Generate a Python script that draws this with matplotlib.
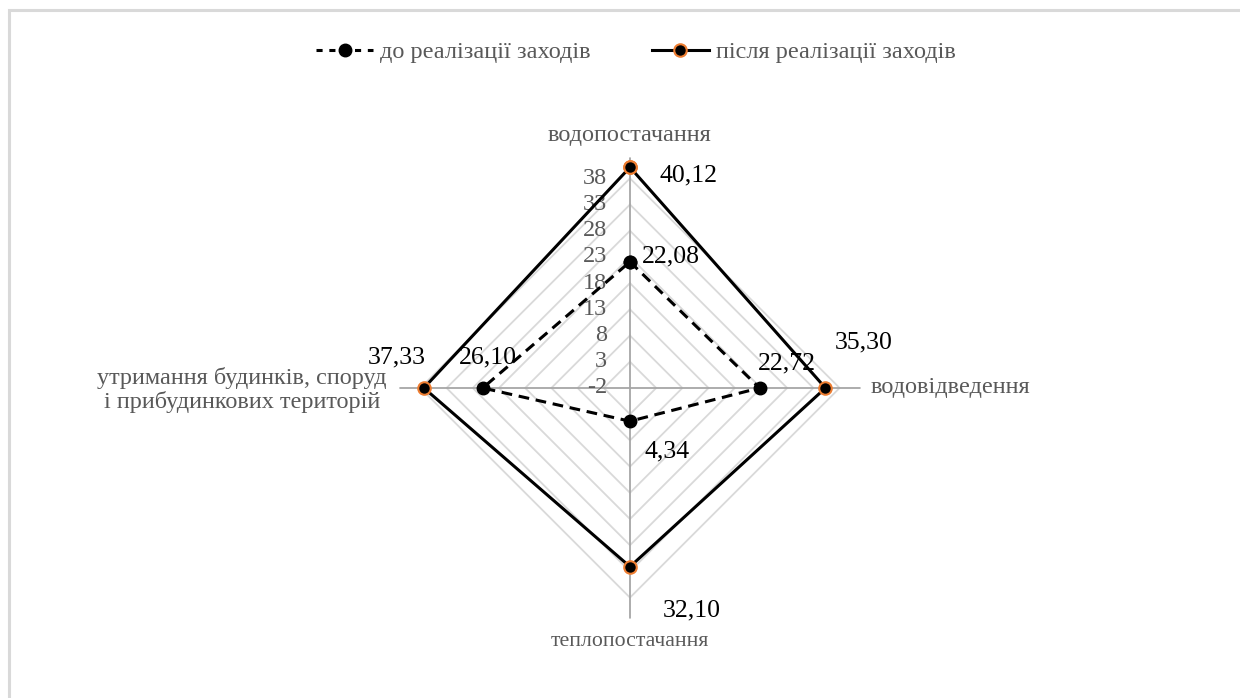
import numpy as np
import matplotlib
matplotlib.use("Agg")
import matplotlib.pyplot as plt
from matplotlib.lines import Line2D
from matplotlib.patches import Rectangle

plt.rcParams['font.family'] = ['Liberation Serif', 'DejaVu Serif']

categories = ["водопостачання", "водовідведення", "теплопостачання",
              "утримання будинків, споруд\nі прибудинкових територій"]
before = [22.08, 22.72, 4.34, 26.10]
after = [40.12, 35.30, 32.10, 37.33]
before_labels = ["22,08", "22,72", "4,34", "26,10"]
after_labels = ["40,12", "35,30", "32,10", "37,33"]
ticks = [-2, 3, 8, 13, 18, 23, 28, 33, 38]
series_names = ["до реалізації заходів", "після реалізації заходів"]

R_MIN, R_MAX = -2, 42
GRID_C = "#d9d9d9"
SPOKE_C = "#a6a6a6"
TEXT_GRAY = "#595959"
ORANGE = "#ed7d31"
LABEL_FS = 17.5

fig = plt.figure(figsize=(12.4, 6.98), dpi=100)
fig.patch.set_facecolor("white")

# chart border (light grey frame, open to the right and bottom)
fig.add_artist(Rectangle((9 / 1240, -0.2), 1.5, 1.2 - 9.5 / 698,
                         transform=fig.transFigure, fill=False,
                         edgecolor="#d9d9d9", lw=2.2))

ax = fig.add_axes([0.3221, 0.1138, 0.3719, 0.6607], projection="polar")
ax.set_theta_zero_location("N")
ax.set_theta_direction(-1)
ax.set_ylim(R_MIN, R_MAX)
ax.grid(False)
ax.set_xticks([])
ax.set_yticks([])
ax.spines["polar"].set_visible(False)
ax.patch.set_alpha(0)

n = len(categories)
theta = np.arange(n) * 2 * np.pi / n
theta_closed = np.append(theta, theta[0])

# polygonal gridlines
for t in ticks[1:]:
    ax.plot(theta_closed, [t] * (n + 1), color=GRID_C, lw=1.3, zorder=1)

# spokes
for th in theta:
    ax.plot([th, th], [R_MIN, R_MAX], color=SPOKE_C, lw=1.3, zorder=2)

px = 72 / 100  # points per pixel

# radial tick labels along the top spoke
for t in ticks:
    ax.annotate(str(t), (0, t), xytext=(-23 * px, 0), textcoords="offset points",
                ha="right", va="center", fontsize=LABEL_FS, color=TEXT_GRAY,
                annotation_clip=False, zorder=3)

# series
ax.plot(theta_closed, before + before[:1], color="black", lw=2.2,
        linestyle=(0, (3.5, 2.2)), marker="o", markersize=9,
        markerfacecolor="black", markeredgecolor="black", zorder=4)
ax.plot(theta_closed, after + after[:1], color="black", lw=2.2,
        marker="o", markersize=9, markerfacecolor="black",
        markeredgecolor=ORANGE, markeredgewidth=1.5, zorder=5)

# data labels (offsets in pixels: dx right, dy down)
before_off = [(12, -5), (-2, -25), (15, 30), (-24, -31)]
after_off = [(30, 8), (9, -46), (33, 44), (-56, -31)]
for vals, labs, offs in ((before, before_labels, before_off),
                         (after, after_labels, after_off)):
    for th, v, lab, (dx, dy) in zip(theta, vals, labs, offs):
        ax.annotate(lab, (th, v), xytext=(dx * px, -dy * px),
                    textcoords="offset points", ha="left", va="center",
                    fontsize=18.5, color="black", annotation_clip=False,
                    zorder=6)

# category labels: (offset px, ha, font size)
cat_pos = [((0, 22), "center", LABEL_FS),
           ((10, 0), "left", LABEL_FS),
           ((0, -23), "center", 15.7),
           ((-13, -2), "right", LABEL_FS)]
for th, name, ((dx, dy), ha, fs) in zip(theta, categories, cat_pos):
    ax.annotate(name, (th, R_MAX), xytext=(dx * px, dy * px),
                textcoords="offset points", ha=ha, va="center",
                multialignment="center", fontsize=fs,
                color=TEXT_GRAY, linespacing=1.12, annotation_clip=False)

handles = [
    Line2D([], [], color="black", lw=2.2, linestyle=(0, (2.0, 2.2)),
           marker="o", markersize=9, markerfacecolor="black",
           markeredgecolor="black"),
    Line2D([], [], color="black", lw=2.2, marker="o", markersize=9,
           markerfacecolor="black", markeredgecolor=ORANGE,
           markeredgewidth=1.5),
]
leg = fig.legend(handles, series_names, loc="center",
                 bbox_to_anchor=(636 / 1240, 1 - 52 / 698), ncol=2,
                 frameon=False, fontsize=LABEL_FS, handlelength=2.35,
                 columnspacing=2.5, handletextpad=0.3,
                 labelcolor=TEXT_GRAY)

fig.savefig("out.png", dpi=100, facecolor="white")
